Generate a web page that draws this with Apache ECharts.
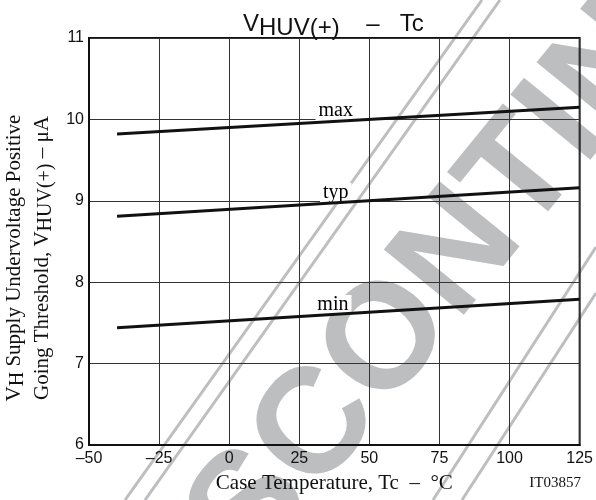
<!DOCTYPE html>
<html>
<head>
<meta charset="utf-8">
<script src="https://cdn.jsdelivr.net/npm/echarts@6/dist/echarts.min.js"></script>
<style>
  html, body { margin: 0; padding: 0; background: #fff; }
  #main { width: 596px; height: 500px; }
</style>
</head>
<body>
<div id="main"></div>
<script>
// case temperature (°C) at the two ends of each curve
var temps = [-40, 125];
// threshold current (uA)
var vMax = [9.82, 10.15];
var vTyp = [8.81, 9.16];
var vMin = [7.44, 7.79];

// curve labels and where they sit
var curveNames = ['max', 'typ', 'min'];
var labelTemps = [38, 38, 37];
var labelValues = [10.11, 9.10, 7.72];

var serif = '"Liberation Serif", "Times New Roman", serif';
var sans = '"Liberation Sans", Arial, sans-serif';

var chart = echarts.init(document.getElementById('main'));

function pairs(xs, ys) {
  var out = [];
  for (var i = 0; i < xs.length; i++) {
    out.push([xs[i], ys[i]]);
  }
  return out;
}

function curve(name, values) {
  return {
    name: name,
    type: 'line',
    z: 5,
    symbol: 'none',
    silent: true,
    lineStyle: { color: '#111', width: 3 },
    data: pairs(temps, values)
  };
}

var labelData = [];
for (var i = 0; i < curveNames.length; i++) {
  labelData.push({ value: [labelTemps[i], labelValues[i]], name: curveNames[i] });
}

var grey = '#bcbec0';

var option = {
  animation: false,
  backgroundColor: '#fff',
  title: {
    left: 238,
    top: 3,
    text: '{v|V}{s|HUV(+)}{n|    –   Tc}',
    textStyle: {
      rich: {
        v: { fontFamily: sans, fontWeight: 'normal', fontSize: 24, lineHeight: 32, color: '#111' },
        s: { fontFamily: sans, fontWeight: 'normal', fontSize: 24, lineHeight: 24, verticalAlign: 'bottom', color: '#111' },
        n: { fontFamily: sans, fontWeight: 'normal', fontSize: 24, lineHeight: 32, color: '#111' }
      }
    }
  },
  grid: {
    left: 89,
    right: 14,
    top: 38,
    bottom: 55,
    show: true,
    borderColor: '#111',
    borderWidth: 2
  },
  xAxis: {
    type: 'value',
    min: -50,
    max: 125,
    interval: 25,
    name: 'Case Temperature, Tc  –  °C',
    nameLocation: 'middle',
    nameGap: 28,
    nameTextStyle: { fontFamily: serif, fontSize: 21, color: '#111' },
    axisLine: { onZero: false, lineStyle: { color: '#111', width: 2 } },
    axisTick: { show: false },
    axisLabel: {
      margin: 6,
      fontFamily: sans,
      fontSize: 16,
      color: '#111',
      formatter: function (v) { return String(v).replace('-', '–'); }
    },
    splitLine: { lineStyle: { color: '#333', width: 1 } }
  },
  yAxis: {
    type: 'value',
    min: 6,
    max: 11,
    interval: 1,
    axisLine: { onZero: false, lineStyle: { color: '#111', width: 2 } },
    axisTick: { show: false },
    axisLabel: { margin: 5, fontFamily: sans, fontSize: 16, color: '#111' },
    splitLine: { lineStyle: { color: '#333', width: 1 } }
  },
  graphic: [
    {
      type: 'text',
      z: -10,
      silent: true,
      x: 486,
      y: 222,
      rotation: 50.8 * Math.PI / 180,
      style: {
        text: 'DISCONTINUED',
        font: 'bold 150px ' + sans,
        fill: grey,
        textAlign: 'center',
        textVerticalAlign: 'middle'
      }
    },
    { type: 'line', z: -10, silent: true, shape: { x1: 125, y1: 500, x2: 482, y2: 0 }, style: { stroke: grey, lineWidth: 3 } },
    { type: 'line', z: -10, silent: true, shape: { x1: 145, y1: 500, x2: 500, y2: 0 }, style: { stroke: grey, lineWidth: 3 } },
    { type: 'line', z: -10, silent: true, shape: { x1: 433, y1: 500, x2: 596, y2: 247 }, style: { stroke: grey, lineWidth: 3 } },
    { type: 'line', z: -10, silent: true, shape: { x1: 462, y1: 500, x2: 596, y2: 293 }, style: { stroke: grey, lineWidth: 3 } },
    {
      type: 'text',
      silent: true,
      x: 28,
      y: 258,
      rotation: Math.PI / 2,
      style: {
        text: '{a|V}{s|H}{a| Supply Undervoltage Positive}\n{a|Going Threshold, V}{s|HUV(+)}{a| – μA}',
        textAlign: 'center',
        textVerticalAlign: 'middle',
        rich: {
          a: { fontFamily: serif, fontSize: 21, lineHeight: 28, fill: '#111' },
          s: { fontFamily: serif, fontSize: 20, lineHeight: 20, verticalAlign: 'bottom', fill: '#111' }
        }
      }
    },
    {
      type: 'text',
      silent: true,
      x: 581,
      y: 483,
      style: {
        text: 'IT03857',
        font: '15px ' + serif,
        fill: '#111',
        textAlign: 'right',
        textVerticalAlign: 'middle'
      }
    }
  ],
  series: [
    curve('max', vMax),
    curve('typ', vTyp),
    curve('min', vMin),
    {
      type: 'scatter',
      z: 1,
      silent: true,
      symbolSize: 0,
      itemStyle: { opacity: 1 },
      emphasis: { disabled: true },
      data: labelData,
      label: {
        show: true,
        position: 'inside',
        formatter: '{b}',
        fontFamily: serif,
        fontSize: 20,
        color: '#000',
        opacity: 1,
        textBorderWidth: 0,
        backgroundColor: '#fff',
        padding: [0, 3, 0, 3]
      }
    }
  ]
};

chart.setOption(option);
</script>
</body>
</html>
